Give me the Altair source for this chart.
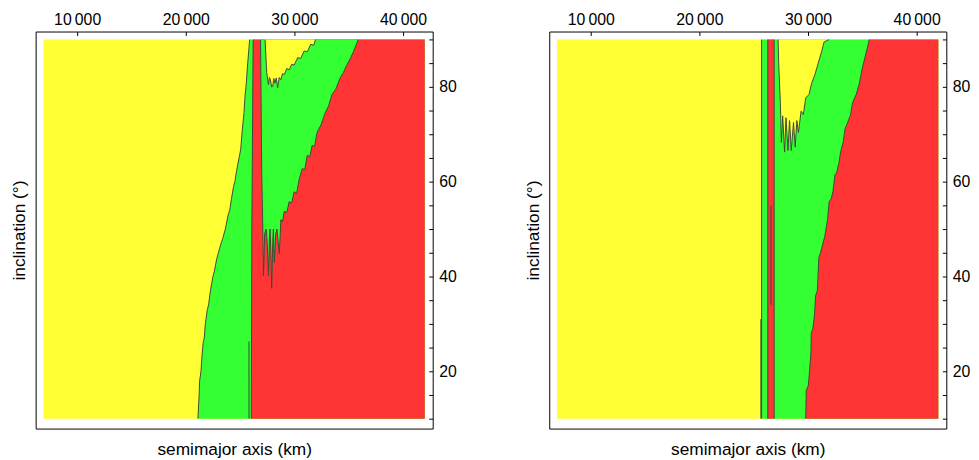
import altair as alt
import pandas as pd

# ---------------- data ----------------
X_FILL = [6900, 42000]          # extent of the coloured map (km)
Y_FILL = [10, 90]               # extent of the coloured map (deg)
X_DOMAIN = [6180, 42730]
Y_DOMAIN = [7.9, 91.7]
X_TICKS = [10000, 20000, 30000, 40000]
Y_TICKS = list(range(10, 95, 5))

# Panel 1 : yellow/green boundary (x as a function of inclination)
p1_left_inc = [10, 13, 15, 17.9, 20, 22.9, 26, 27, 29.8, 33, 34, 36.7, 40, 41, 43.75, 47, 48, 50, 53, 54, 56.5, 59, 60, 62.1, 66.9, 70.4, 74.6, 78, 80.8, 85, 90]
p1_left_km = [21120, 21180, 21230, 21270, 21400, 21480, 21600, 21700, 21790, 21980, 22100, 22250, 22500, 22620, 22850, 23250, 23400, 23640, 23900, 24050, 24210, 24400, 24520, 24660, 25060, 25180, 25360, 25450, 25570, 25700, 25880]
# Panel 1 : left edge of the red strip
p1_strip_inc = [10, 50, 90]
p1_strip_km = [26030, 26080, 26200]
# Panel 1 : green wedge right of the red strip (lower boundary vs x)
p1_wedge_km = [26880, 26990, 27090, 27155, 27260, 27391, 27500, 27609, 27700, 27755, 27840, 27909, 28000, 28064, 28155, 28280, 28391, 28609, 28755, 28900, 29064, 29300, 29518, 29750, 29973, 30200, 30427, 30727, 30950, 31182, 31400, 31636, 31850, 32091, 32450, 32845, 33150, 33455, 33800, 34209, 34500, 34818, 35100, 35427, 35882]
p1_wedge_low = [89.9, 62, 50, 40.2, 49, 50, 47, 40.2, 48, 50, 45, 37.5, 47, 50, 43, 49, 50, 44.8, 52, 51.5, 53.75, 53.5, 55.8, 55.5, 57.9, 57.5, 60.4, 62.8, 62.5, 65.6, 65.2, 67.7, 67.4, 70.4, 72, 74.6, 76, 78.4, 79.5, 81.9, 83, 84.6, 85.8, 87.4, 90]
# Panel 1 : yellow island at high inclination
p1_isl_km = [27300, 27450, 27609, 27700, 27790, 27900, 28000, 28100, 28210, 28330, 28455, 28600, 28755, 28900, 29064, 29300, 29518, 29750, 29973, 30300, 30573, 30900, 31182, 31500, 31791, 31936]
p1_isl_low = [89.9, 83, 80.5, 82, 81.5, 80, 80.1, 81.8, 80.8, 81.9, 79.8, 82, 81.5, 82.8, 82.6, 83.9, 83.6, 84.8, 84.6, 86.2, 86, 87.6, 87.4, 89, 88.8, 90]
# Panel 1 : short dark line at the foot of the strip
p1_rule_km = [25818]
p1_rule_lo = [10]
p1_rule_hi = [26.3]

# Panel 2 : vertical boundaries
p2_yg_km = 25727
p2_strip = [26300, 26882]
p2_thin_km = 25660
p2_thin_hi = 31
p2_dark_km = 26590
p2_dark_lo, p2_dark_hi = 34, 55
# Panel 2 : green/red boundary (x as a function of inclination)
p2_right_inc = [10, 16, 17, 20, 24, 28.1, 29, 32, 36, 37, 40, 44, 45, 48.5, 52, 55.8, 56.5, 58, 61.4, 62, 64, 66.25, 68.5, 71.1, 72, 74, 76.7, 78.5, 80.8, 84, 87.1, 90]
p2_right_km = [29790, 29840, 30030, 30140, 30270, 30300, 30450, 30600, 30700, 30860, 30920, 31000, 31150, 31545, 31800, 31950, 32150, 32300, 32480, 32650, 32850, 33000, 33250, 33400, 33560, 33900, 34100, 34450, 34730, 35000, 35340, 35640]
# Panel 2 : yellow island
p2_isl_km = [27245, 27300, 27455, 27545, 27664, 27845, 27973, 28155, 28300, 28455, 28664, 28818, 28973, 29118, 29364, 29573, 29791, 30091, 30336, 30636, 30936, 31245, 31482, 31936]
p2_isl_low = [90, 85, 76.7, 68.3, 73.9, 66.25, 73.5, 66.6, 72.9, 66.6, 72.5, 67.3, 72.9, 70.4, 74.9, 74.2, 77.7, 78.4, 80.8, 82.6, 85, 87.4, 89.5, 90]

# ---------------- style ----------------
YEL = "#FFFF33"
GRN = "#33FF33"
RED = "#FF3535"
EDGE = "#3c4a36"
FONT = "Liberation Sans"
W = H = 402

THIN = "\u2009"

x_axis = alt.Axis(
    orient="top", values=X_TICKS,
    labelExpr="replace(format(datum.value, ','), ',', '" + THIN + "')",
    title="semimajor axis (km)", titleX=W / 2, titleY=424, titleAlign="center",
    titleBaseline="alphabetic", titleAnchor="middle",
    offset=-4, tickSize=4, labelPadding=4, domain=False, grid=False,
)
y_axis = alt.Axis(
    orient="right", values=Y_TICKS,
    labelExpr="datum.value % 20 == 0 ? datum.value : ''",
    title="inclination (°)", titleAngle=270, titleX=-(W - 4) - 16, titleY=H / 2,
    titleAlign="center", titleBaseline="middle",
    offset=-4, tickSize=4, labelPadding=6, domain=False, grid=False,
)
xs = alt.Scale(domain=X_DOMAIN, nice=False, zero=False)
ys = alt.Scale(domain=Y_DOMAIN, nice=False, zero=False)


def X(f):
    return alt.X(f, type="quantitative", scale=xs, axis=x_axis)


def Y(f):
    return alt.Y(f, type="quantitative", scale=ys, axis=y_axis)


def rect(x0, x1, y0, y1, color):
    df = pd.DataFrame({"x": [x0], "x2": [x1], "y": [y0], "y2": [y1]})
    return alt.Chart(df).mark_rect(color=color).encode(x=X("x"), x2="x2", y=Y("y"), y2="y2")


def harea(inc, km, color):
    df = pd.DataFrame({"inc": inc, "km": km, "km2": X_FILL[1]})
    return alt.Chart(df).mark_area(orient="horizontal", color=color, interpolate="linear").encode(
        y=Y("inc"), x=X("km"), x2="km2")


def varea(km, low, color):
    df = pd.DataFrame({"km": km, "low": low, "top": Y_FILL[1]})
    return alt.Chart(df).mark_area(orient="vertical", color=color, interpolate="linear").encode(
        x=X("km"), y=Y("low"), y2="top")


def path(xv, yv):
    df = pd.DataFrame({"x": xv, "y": yv, "i": list(range(len(xv)))})
    return alt.Chart(df).mark_line(color=EDGE, strokeWidth=1).encode(
        x=X("x"), y=Y("y"), order=alt.Order("i:Q"))


def rules(xv, lo, hi):
    df = pd.DataFrame({"x": xv, "y": lo, "y2": hi})
    return alt.Chart(df).mark_rule(color=EDGE, strokeWidth=1).encode(x=X("x"), y=Y("y"), y2="y2")


panel1 = alt.layer(
    rect(X_FILL[0], X_FILL[1], Y_FILL[0], Y_FILL[1], YEL),
    harea(p1_left_inc, p1_left_km, GRN),
    harea(p1_strip_inc, p1_strip_km, RED),
    varea(p1_wedge_km, p1_wedge_low, GRN),
    varea(p1_isl_km, p1_isl_low, YEL),
    path(p1_left_km, p1_left_inc),
    path(p1_strip_km, p1_strip_inc),
    path(p1_wedge_km, p1_wedge_low),
    path(p1_isl_km, p1_isl_low),
    rules(p1_rule_km, p1_rule_lo, p1_rule_hi),
).properties(width=W, height=H)

panel2 = alt.layer(
    rect(X_FILL[0], X_FILL[1], Y_FILL[0], Y_FILL[1], YEL),
    rect(p2_yg_km, X_FILL[1], Y_FILL[0], Y_FILL[1], GRN),
    harea(p2_right_inc, p2_right_km, RED),
    rect(p2_strip[0], p2_strip[1], Y_FILL[0], Y_FILL[1], RED),
    varea(p2_isl_km, p2_isl_low, YEL),
    path(p2_right_km, p2_right_inc),
    path(p2_isl_km, p2_isl_low),
    rules([p2_yg_km, p2_strip[0], p2_strip[1], p2_thin_km, p2_dark_km],
          [Y_FILL[0], Y_FILL[0], Y_FILL[0], Y_FILL[0], p2_dark_lo],
          [Y_FILL[1], Y_FILL[1], Y_FILL[1], p2_thin_hi, p2_dark_hi]),
).properties(width=W, height=H)

chart = alt.hconcat(panel1, panel2, spacing=67).properties(
    padding={"left": 2, "top": 0, "right": 0, "bottom": 0}
).configure(
    background="white"
).configure_view(
    stroke="black", strokeWidth=1
).configure_axis(
    labelFont=FONT, titleFont=FONT, labelFontSize=16, titleFontSize=17.5,
    labelColor="black", titleColor="black", tickColor="black",
    titleFontWeight="normal",
)

chart.save("out.html", embed_options={"renderer": "svg", "actions": False})
